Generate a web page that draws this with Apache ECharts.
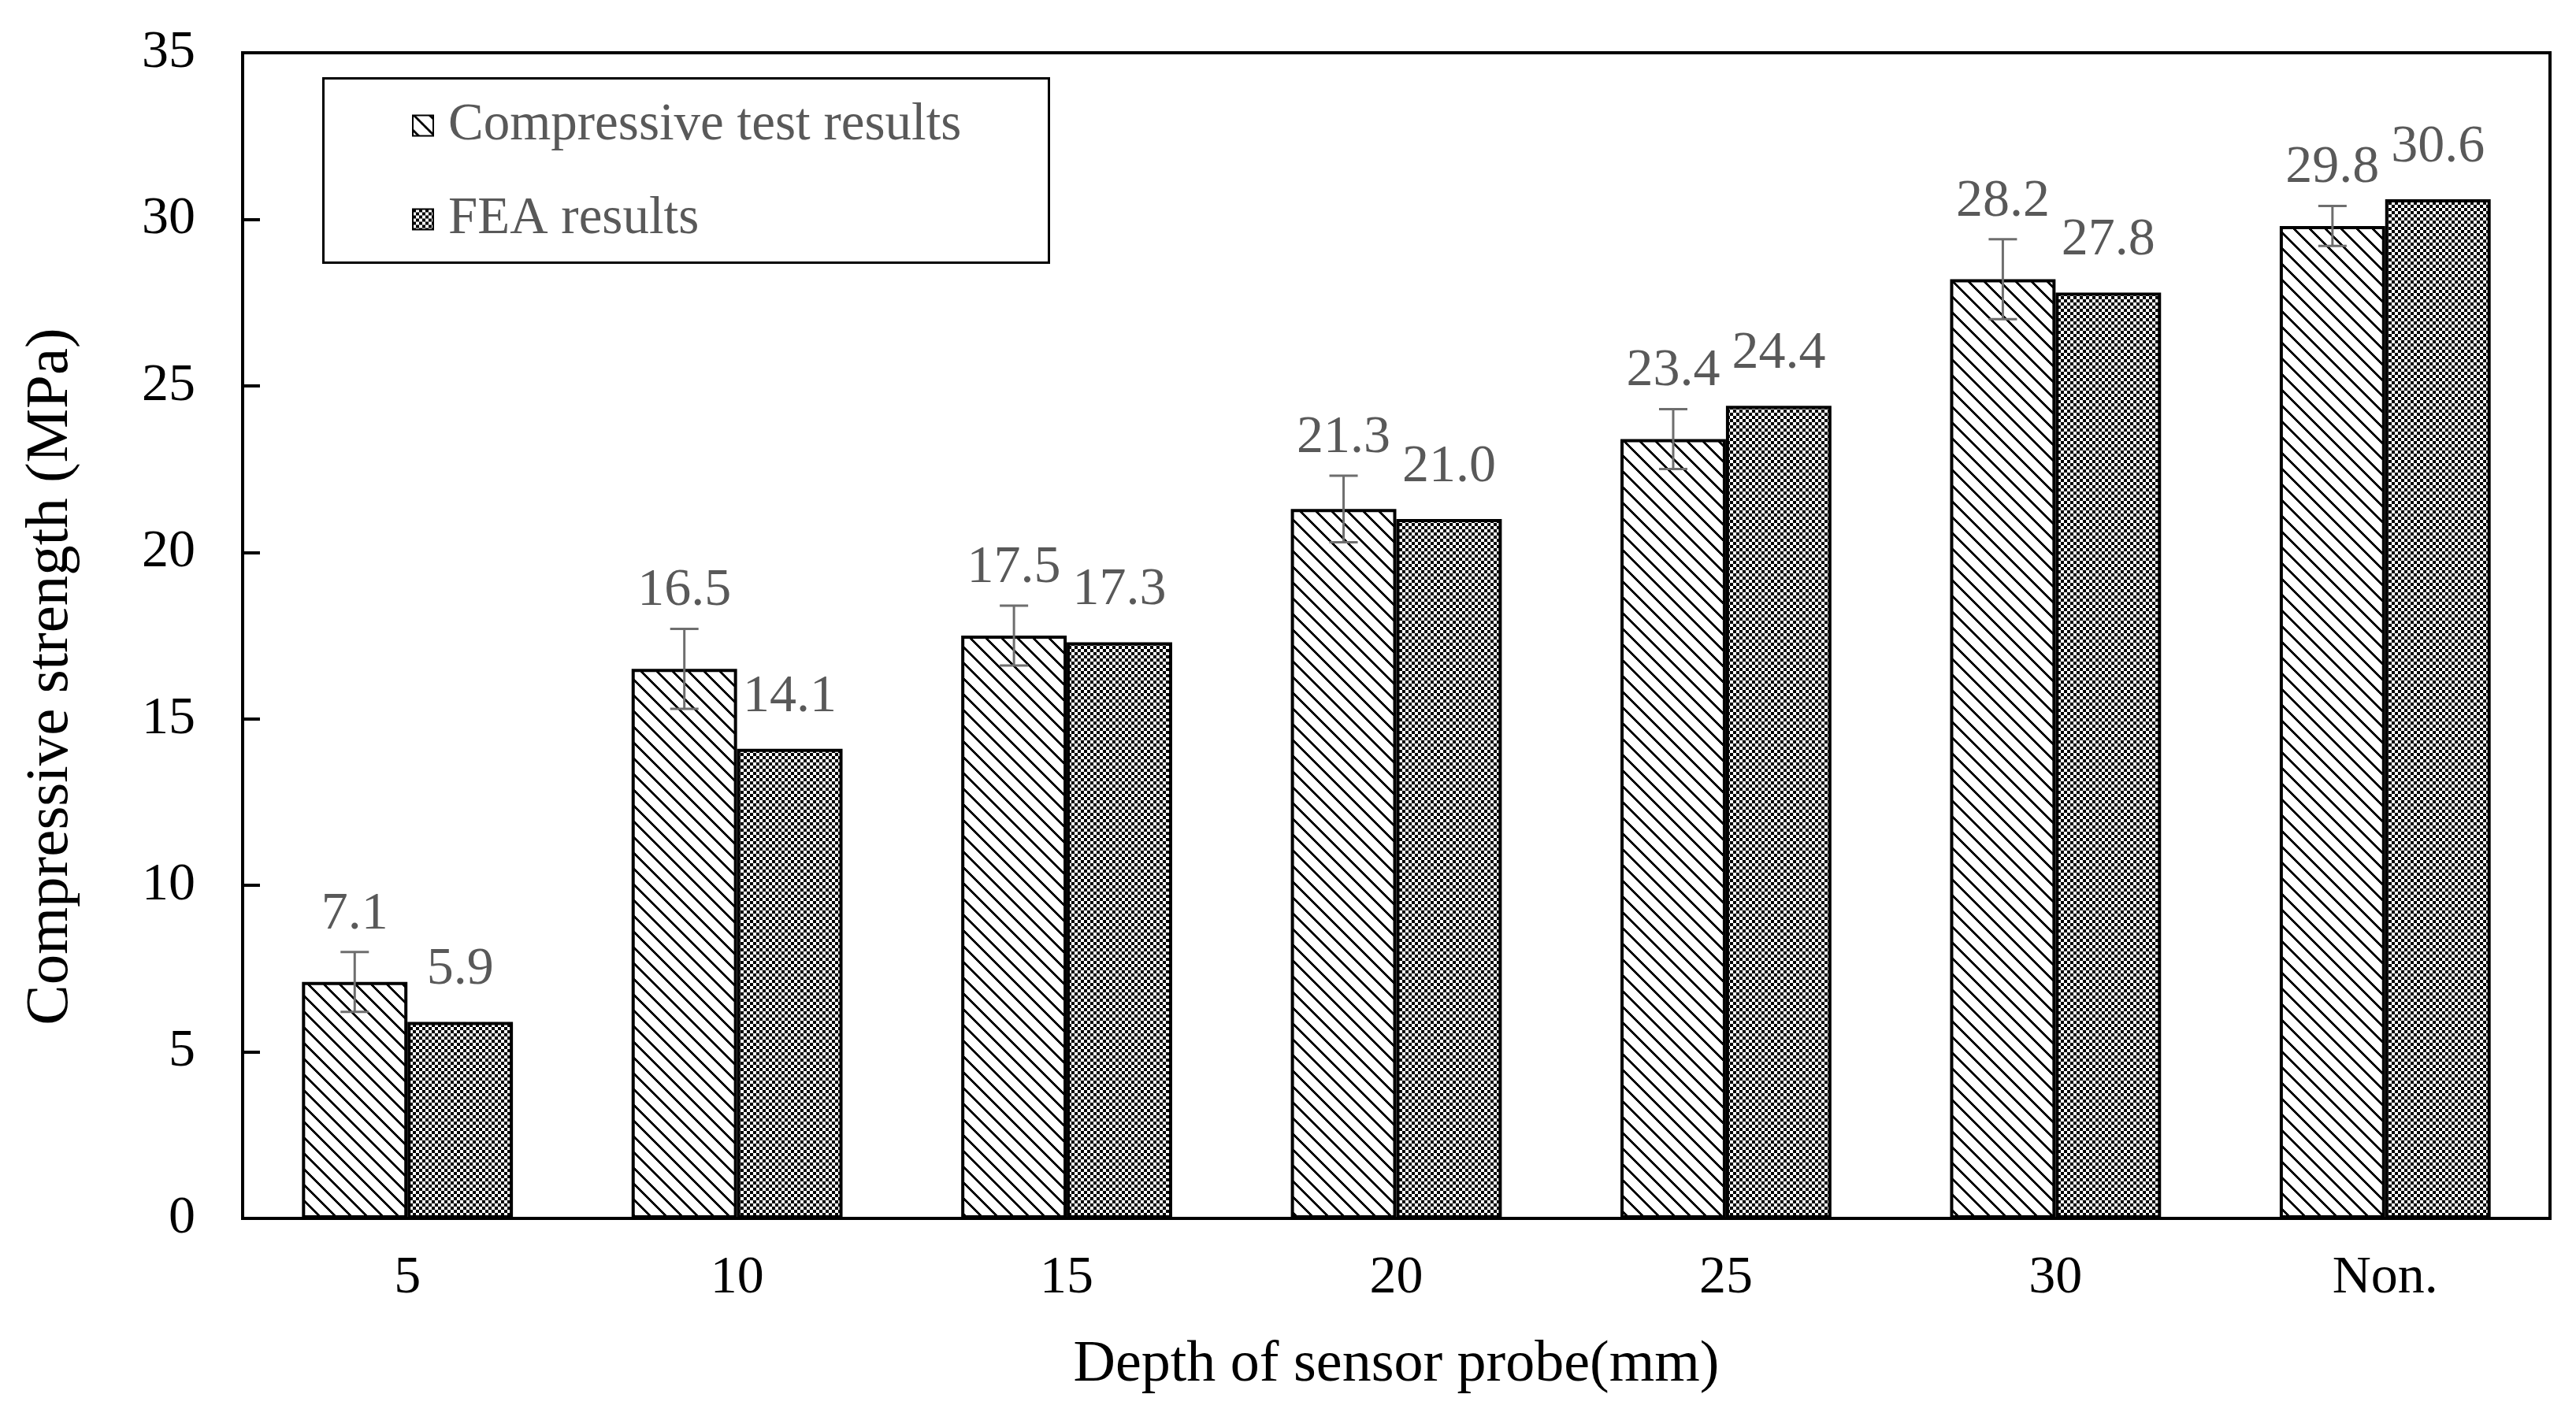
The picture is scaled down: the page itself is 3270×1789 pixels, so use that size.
<!DOCTYPE html>
<html>
<head>
<meta charset="utf-8">
<script src="https://cdn.jsdelivr.net/npm/echarts@6/dist/echarts.min.js"></script>
<style>html,body{margin:0;padding:0;background:#fff}#c{width:3270px;height:1789px}</style>
</head>
<body>
<div id="c"></div>
<script>
const categories = ['5', '10', '15', '20', '25', '30', 'Non.'];
const testValues = [7.1, 16.5, 17.5, 21.3, 23.4, 28.2, 29.8];
const testErrors = [0.9, 1.2, 0.9, 1.0, 0.9, 1.2, 0.6];
const feaValues = [5.9, 14.1, 17.3, 21.0, 24.4, 27.8, 30.6];
const seriesNames = ['Compressive test results', 'FEA results'];

const FONT = '"Liberation Serif", "Times New Roman", serif';

function makeHatch() {
  const n = 20, c = document.createElement('canvas');
  c.width = n; c.height = n;
  const ctx = c.getContext('2d');
  ctx.fillStyle = '#fff'; ctx.fillRect(0, 0, n, n);
  ctx.fillStyle = '#000';
  for (let y = 0; y < n; y++) for (let x = 0; x < n; x++) {
    if ((((x - y) % n) + n) % n < 4) ctx.fillRect(x, y, 1, 1);
  }
  return c;
}
function makeChecker() {
  const s = 4, c = document.createElement('canvas');
  c.width = 2 * s; c.height = 2 * s;
  const ctx = c.getContext('2d');
  ctx.fillStyle = '#fff'; ctx.fillRect(0, 0, 2 * s, 2 * s);
  ctx.fillStyle = '#000';
  ctx.fillRect(0, 0, s, s); ctx.fillRect(s, s, s, s);
  return c;
}
const hatch = { image: makeHatch(), repeat: 'repeat' };
const checker = { image: makeChecker(), repeat: 'repeat' };

const errData = testValues.map((v, i) => [i, v, testErrors[i]]);

const chart = echarts.init(document.getElementById('c'), null, { renderer: 'canvas' });
chart.setOption({
  backgroundColor: '#fff',
  animation: false,
  textStyle: { fontFamily: FONT },
  grid: { left: 308, right: 33, top: 67, bottom: 242, show: true, borderColor: '#000', borderWidth: 4, containLabel: false },
  graphic: [{
    type: 'rect', z: 1, left: 409, top: 98,
    shape: { width: 921, height: 234 },
    style: { fill: '#fff', stroke: '#000', lineWidth: 3 }
  }],
  legend: {
    z: 10,
    data: seriesNames,
    orient: 'vertical',
    left: 518, top: 121,
    itemWidth: 26, itemHeight: 26, itemGap: 52,
    icon: 'rect',
    itemStyle: { borderColor: '#000', borderWidth: 2 },
    textStyle: { fontFamily: FONT, fontSize: 67, color: '#595959', lineHeight: 67, padding: [0, 0, 0, 14] }
  },
  xAxis: {
    type: 'category',
    data: categories,
    name: 'Depth of sensor probe(mm)',
    nameLocation: 'middle',
    nameGap: 150,
    nameTextStyle: { fontFamily: FONT, fontSize: 74, color: '#000' },
    axisLine: { lineStyle: { color: '#000', width: 4 } },
    axisTick: { show: false },
    axisLabel: { fontFamily: FONT, fontSize: 68, color: '#000', margin: 42 },
    splitLine: { show: false }
  },
  yAxis: {
    type: 'value',
    min: 0, max: 35, interval: 5,
    name: 'Compressive strength (MPa)',
    nameLocation: 'middle',
    nameGap: 205,
    nameTextStyle: { fontFamily: FONT, fontSize: 77, color: '#000', padding: [0, 104, 0, 0] },
    axisLine: { show: true, lineStyle: { color: '#000', width: 4 } },
    axisTick: { show: true, inside: true, length: 22, lineStyle: { color: '#000', width: 4 } },
    axisLabel: { fontFamily: FONT, fontSize: 68, color: '#000', margin: 60 },
    splitLine: { show: false }
  },
  series: [
    {
      name: seriesNames[0], type: 'bar', data: testValues,
      barGap: '0%', barCategoryGap: '36%',
      itemStyle: { color: hatch, borderColor: '#000', borderWidth: 4 },
      label: { show: false }
    },
    {
      name: seriesNames[1], type: 'bar', data: feaValues,
      barGap: '0%', barCategoryGap: '36%',
      itemStyle: { color: checker, borderColor: '#000', borderWidth: 4 },
      label: {
        show: true, position: 'top', distance: 32,
        fontFamily: FONT, fontSize: 68, color: '#595959',
        formatter: p => p.value.toFixed(1)
      }
    },
    {
      name: 'err', type: 'custom', z: 5,
      data: errData,
      encode: { x: 0, y: 1 },
      renderItem: function (params, api) {
        const idx = api.value(0), v = api.value(1), e = api.value(2);
        const band = api.size([1, 0])[0];
        const cx = api.coord([idx, v])[0] - band * 0.16;
        const top = api.coord([idx, v + e])[1];
        const bot = api.coord([idx, v - e])[1];
        const hw = 18;
        const ls = { stroke: '#6e6e6e', lineWidth: 3 };
        return {
          type: 'group',
          children: [
            { type: 'line', shape: { x1: cx, y1: top, x2: cx, y2: bot }, style: ls },
            { type: 'line', shape: { x1: cx - hw, y1: top, x2: cx + hw, y2: top }, style: ls },
            { type: 'line', shape: { x1: cx - hw, y1: bot, x2: cx + hw, y2: bot }, style: ls },
            { type: 'text', style: { text: v.toFixed(1), x: cx, y: top - 14, align: 'center', verticalAlign: 'bottom', fill: '#595959', fontSize: 68, fontFamily: FONT } }
          ]
        };
      }
    }
  ]
});
</script>
</body>
</html>
